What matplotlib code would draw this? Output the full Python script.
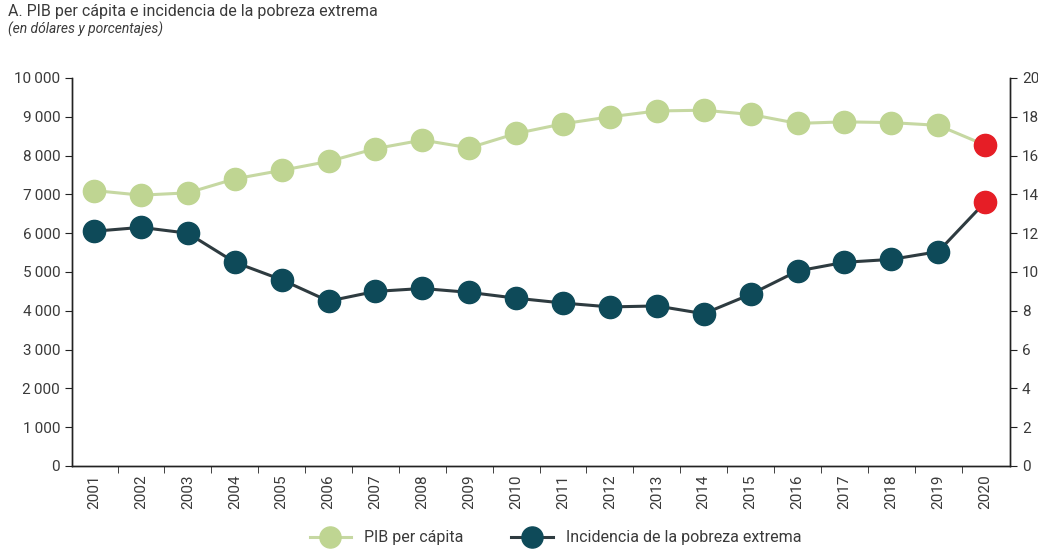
import matplotlib
matplotlib.use("Agg")
import matplotlib.pyplot as plt
from matplotlib.ticker import FuncFormatter, FixedLocator
from matplotlib import font_manager

years = [str(y) for y in range(2001, 2021)]
pib_per_capita = [7100, 6980, 7040, 7400, 7620, 7850, 8180, 8400, 8200, 8570,
                  8820, 9000, 9150, 9170, 9060, 8830, 8870, 8850, 8780, 8270]
pobreza_extrema = [12.1, 12.3, 12.0, 10.5, 9.6, 8.5, 9.0, 9.15, 8.95, 8.65,
                   8.4, 8.2, 8.25, 7.85, 8.85, 10.05, 10.5, 10.65, 11.05, 13.6]
left_ticks = list(range(0, 10001, 1000))
right_ticks = list(range(0, 21, 2))

GREEN = "#bfd592"
GREEN_LINE = "#c6d8a2"
TEAL = "#0e4a59"
TEAL_LINE = "#2e3b40"
RED = "#e61e26"
TXT = "#3a3a3a"

names = {f.name for f in font_manager.fontManager.ttflist}
fam = ["Liberation Sans Narrow", "DejaVu Sans"] if "Liberation Sans Narrow" in names else ["Roboto", "DejaVu Sans"]
plt.rcParams["font.family"] = fam

fig = plt.figure(figsize=(10.38, 5.52), dpi=100)
ax = fig.add_axes([0.0694, 0.1558, 0.9036, 0.7029])
ax2 = ax.twinx()

x = list(range(len(years)))
ms = 16

ax.plot(x[:-1], pib_per_capita[:-1], color=GREEN_LINE, lw=2.2, marker="o",
        ms=ms, mfc=GREEN, mec=GREEN, zorder=3)
ax.plot(x[-2:], pib_per_capita[-2:], color=GREEN_LINE, lw=2.2, zorder=2)
ax.plot(x[-1], pib_per_capita[-1], marker="o", ms=ms, mfc=RED, mec=RED, zorder=4)

ax2.plot(x[:-1], pobreza_extrema[:-1], color=TEAL_LINE, lw=2.2, marker="o",
         ms=ms, mfc=TEAL, mec=TEAL, zorder=3)
ax2.plot(x[-2:], pobreza_extrema[-2:], color=TEAL_LINE, lw=2.2, zorder=2)
ax2.plot(x[-1], pobreza_extrema[-1], marker="o", ms=ms, mfc=RED, mec=RED, zorder=4)

ax.set_xlim(-0.47, 19.53)
ax.set_ylim(0, 10000)
ax2.set_ylim(0, 20)

ax.set_xticks(x)
ax.set_xticklabels(years, rotation=90, fontsize=11, color=TXT)
ax.tick_params(axis="x", which="major", length=0, pad=6)
ax.xaxis.set_minor_locator(FixedLocator([i + 0.5 for i in range(19)]))
ax.tick_params(axis="x", which="minor", length=5, direction="out", color="#222222")

ax.set_yticks(left_ticks)
ax.yaxis.set_major_formatter(FuncFormatter(lambda v, p: f"{int(v):,}".replace(",", "\u2009")))
ax.tick_params(axis="y", length=5, direction="out", labelsize=11, labelcolor=TXT, color="#222222")
ax2.set_yticks(right_ticks)
ax2.tick_params(axis="y", length=5, direction="out", labelsize=11, labelcolor=TXT, color="#222222")

for a in (ax, ax2):
    a.spines["top"].set_visible(False)
    for s in ("left", "right", "bottom"):
        a.spines[s].set_color("#222222")
        a.spines[s].set_linewidth(1.0)

fig.text(0.008, 0.971, "A. PIB per cápita e incidencia de la pobreza extrema",
         fontsize=11.5, color=TXT, va="baseline")
fig.text(0.008, 0.940, "(en dólares y porcentajes)", fontsize=10, color=TXT,
         style="italic", va="baseline")

h1, = ax.plot([], [], color=GREEN_LINE, lw=2.2, marker="o", ms=ms, mfc=GREEN, mec=GREEN)
h2, = ax.plot([], [], color=TEAL_LINE, lw=2.2, marker="o", ms=ms, mfc=TEAL, mec=TEAL)
fig.legend([h1, h2], ["PIB per cápita", "Incidencia de la pobreza extrema"],
           loc="center", bbox_to_anchor=(0.535, 0.026), ncol=2, frameon=False,
           fontsize=11.5, handlelength=2.6, columnspacing=3.0, markerscale=0.95,
           labelcolor=TXT)

fig.savefig("out.png", dpi=100)
